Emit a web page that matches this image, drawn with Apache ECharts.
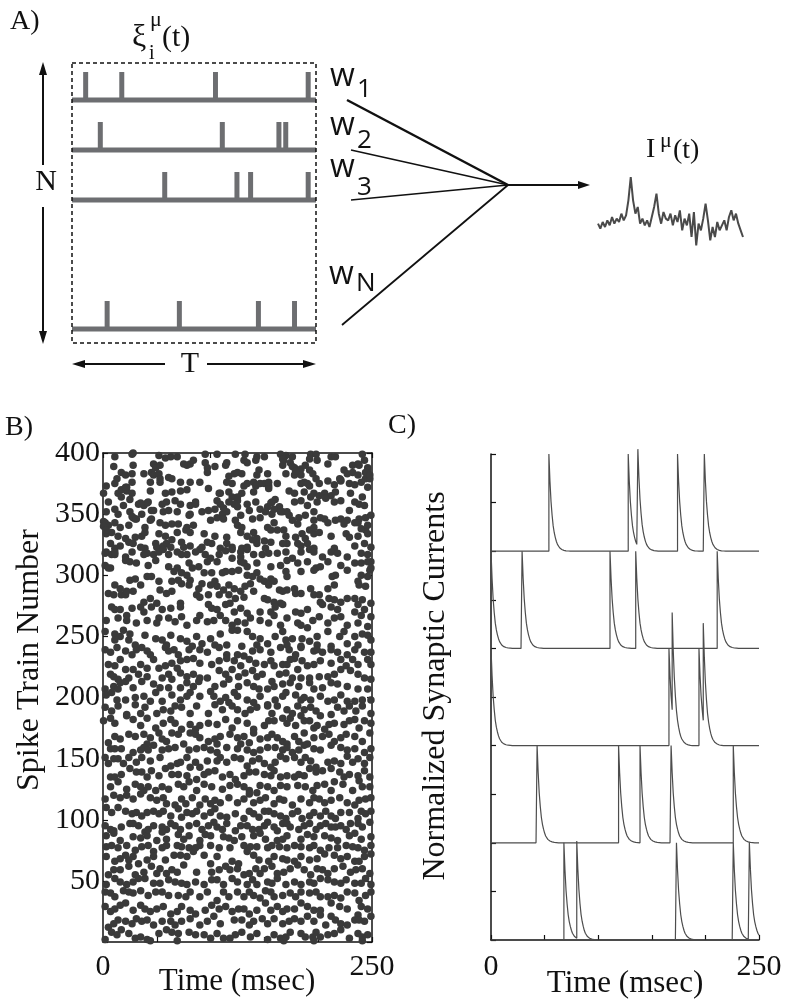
<!DOCTYPE html>
<html><head><meta charset="utf-8">
<script src="https://cdn.jsdelivr.net/npm/echarts@6/dist/echarts.min.js"></script>
<style>html,body{margin:0;padding:0;background:#fff}#c{width:794px;height:1003px}</style>
</head><body><div id="c"></div>
<script>
// ---------- Panel A: schematic spike trains (time 0..250) ----------
const trainRow1 = [14, 51, 147, 242];
const trainRow2 = [29, 154, 212, 219];
const trainRow3 = [95, 169, 183, 242];
const trainRowN = [36, 110, 191, 228];
const trainLevels = [1, 2, 3, 5.58];
// summed input current I^mu(t), arbitrary units, uniform samples
const inputCurrent = [7.0,5.5,7.5,6.0,8.0,6.5,9.0,7.0,8.5,7.5,10.0,8.0,9.5,14.0,21.0,14.0,10.0,12.0,7.0,8.5,6.5,8.0,6.0,9.0,12.0,16.0,10.0,7.0,10.5,8.5,8.0,10.0,6.5,9.5,7.5,11.0,5.0,8.5,6.5,10.0,3.0,10.5,0.5,7.0,5.0,8.5,13.0,8.0,2.0,6.0,3.0,7.5,5.0,6.5,8.0,5.0,9.0,11.0,8.0,10.0,7.0,5.0,3.0];

// ---------- Panel B: raster [time ms, spike train number] ----------
const rasterBand1 = [[11,397],[27,399],[28,400],[52,398],[58,396],[63,397],[69,397],[95,399],[106,399],[123,399],[132,399],[143,397],[150,397],[165,399],[170,398],[176,397],[193,399],[198,399],[212,397],[216,397],[241,399],
[10,389],[28,390],[47,391],[49,388],[53,390],[78,390],[81,391],[84,394],[95,392],[97,388],[104,389],[114,390],[115,392],[131,394],[134,392],[142,394],[167,390],[168,394],[174,392],[178,388],[184,387],[188,390],[192,395],[199,394],[209,391],[224,386],[232,390],[237,391],[243,394],[246,388],
[17,384],[21,382],[27,383],[38,383],[45,384],[47,382],[52,383],[53,379],[61,380],[64,379],[97,384],[117,381],[122,383],[125,384],[129,383],[143,382],[145,386],[153,383],[170,383],[178,382],[184,382],[192,386],[195,383],[221,378],[227,383],[232,384],[237,382],[244,379],[248,379],[246,386],
[3,373],[11,375],[13,379],[22,372],[27,376],[44,376],[53,376],[72,376],[81,376],[90,376],[115,376],[120,375],[131,373],[140,376],[142,373],[150,375],[154,373],[162,375],[184,375],[187,376],[192,373],[201,375],[209,377],[221,377],[229,375],[240,376],[246,372],
[0.5,367],[14,367],[17,364],[22,369],[27,367],[44,369],[58,367],[64,368],[72,369],[78,370],[98,371],[108,367],[117,368],[120,364],[125,361],[129,367],[140,368],[154,371],[173,369],[178,367],[187,368],[196,367],[206,367],[212,365],[216,368],[230,367],[241,364],
[5,360],[19,357],[25,362],[33,358],[38,357],[42,360],[47,353],[55,358],[59,360],[67,361],[72,358],[81,357],[86,358],[106,361],[109,358],[122,358],[125,356],[134,358],[142,360],[146,354],[153,356],[157,360],[160,362],[164,356],[178,360],[184,361],[190,357],[193,364],[199,360],[215,360],[221,361],[234,360],[238,358],[243,357],[229,353],
[3,352],[11,354],[14,350],[25,352],[28,347],[36,350],[45,353],[56,352],[61,353],[69,352],[81,350],[92,352],[98,353],[104,354],[111,350],[115,352],[128,349],[136,353],[146,347],[151,352],[157,350],[167,352],[171,352],[182,347],[188,349],[196,352],[202,347],[221,346],[227,345],[238,346],[244,347],[249,349],
[2,343],[5,341],[11,343],[16,339],[24,341],[30,346],[39,339],[45,346],[53,343],[58,341],[64,342],[70,342],[78,339],[84,341],[100,345],[106,347],[112,346],[123,345],[125,341],[129,339],[139,346],[153,339],[159,343],[162,337],[168,337],[176,345],[181,342],[196,345],[206,346],[209,343],[224,342],[237,343],[244,337],
[3,334],[8,335],[14,332],[21,330],[30,331],[36,332],[39,335],[52,334],[58,332],[69,335],[77,337],[81,335],[94,334],[104,332],[115,331],[128,335],[134,332],[140,335],[143,330],[150,328],[156,337],[170,332],[179,331],[185,334],[188,330],[196,334],[201,335],[212,332],[226,334],[229,331],[237,332],[246,334],
[7,326],[11,322],[24,327],[39,322],[49,326],[59,326],[63,323],[73,327],[81,324],[92,323],[101,326],[109,322],[120,323],[129,322],[143,326],[151,322],[156,327],[171,326],[184,324],[190,326],[196,322],[215,322],[234,324],[243,326],[249,323],
[0.5,344],[0.5,340],[3,337],[17,370],[21,372],[27,348],[31,346],[41,359],[35,359],[44,345],[50,323],[56,324],[64,329],[75,391],[80,349],[86,360],[109,367],[112,355],[117,360],[125,364],[134,375],[146,375],[154,376],[156,359],[159,354],[165,352],[173,349],[167,395],[176,389],[179,385],[190,375],[198,379],[201,365],[207,363],[215,374],[220,379],[234,374],[238,390],[244,384],[248,382],[234,343],[240,338],[246,341],[216,345],[192,337],[196,339],[181,326],[167,326],[139,329],[134,323],[115,326],[97,327],[75,323],[35,323],[28,326],[16,324]];
const rasterBand2 = [[3,319],[8,317],[11,317],[21,315],[27,319],[41,318],[47,317],[52,319],[61,317],[73,317],[78,317],[90,321],[95,317],[108,317],[114,320],[120,321],[128,319],[134,321],[148,317],[162,318],[170,319],[184,319],[192,321],[204,315],[212,319],[218,318],[246,317],[249,311],
[2,308],[7,306],[21,312],[25,311],[31,310],[42,308],[49,312],[61,307],[69,306],[80,310],[89,307],[97,311],[106,311],[120,314],[128,311],[131,310],[134,307],[143,310],[156,307],[165,308],[171,312],[181,310],[190,311],[198,306],[209,311],[221,308],[234,310],[240,310],[246,311],[248,304],
[5,306],[25,296],[30,297],[41,299],[45,299],[52,295],[66,303],[73,302],[78,300],[81,296],[101,302],[111,302],[114,303],[120,303],[126,304],[134,300],[143,302],[146,297],[156,297],[170,303],[171,299],[184,303],[196,304],[202,307],[213,299],[216,300],[227,304],[240,300],[246,299],[249,306],
[64,295],[73,293],[80,292],[89,289],[92,293],[104,295],[106,291],[117,292],[122,289],[132,291],[137,293],[150,295],[154,292],[164,288],[171,288],[178,289],[193,289],[209,289],[215,292],[237,295],[238,292],[244,291],
[5,285],[8,274],[17,284],[21,284],[22,287],[38,278],[44,281],[50,277],[59,285],[64,287],[72,277],[87,284],[90,282],[98,284],[108,284],[117,284],[123,281],[131,282],[140,287],[150,281],[153,280],[159,278],[165,277],[167,287],[179,285],[196,284],[201,284],[210,281],[215,280],[221,278],[234,281],[241,280],[249,277],
[11,272],[27,273],[35,274],[45,274],[55,272],[63,273],[72,274],[98,276],[101,273],[106,272],[114,276],[118,277],[122,270],[128,273],[134,269],[146,270],[156,270],[160,274],[167,276],[179,270],[184,269],[190,272],[204,276],[218,272],[234,270],[243,272],
[3,263],[14,265],[22,263],[31,261],[41,263],[52,265],[61,265],[67,262],[73,266],[87,263],[97,262],[109,267],[114,263],[125,262],[132,261],[146,263],[154,261],[165,259],[181,261],[184,259],[195,263],[201,266],[215,265],[221,266],[227,259],[237,261],[246,258],[249,266],
[2,254],[11,252],[16,250],[19,255],[24,247],[30,243],[39,251],[49,248],[55,247],[63,251],[72,248],[87,250],[92,244],[100,248],[109,252],[120,255],[125,255],[134,254],[139,250],[146,248],[153,244],[160,250],[167,254],[170,247],[176,248],[185,248],[192,246],[199,250],[209,254],[220,250],[227,244],[234,250],[241,252],[246,251],[249,247],[115,243],[129,242],[104,243],[83,242],[184,242],[212,242],
[2,318],[11,319],[38,317],[56,321],[69,319],[86,319],[100,314],[128,315],[140,317],[154,318],[176,314],[196,319],[227,315],[240,318],[11,292],[16,289],[10,284],[28,287],[35,292],[53,288],[70,296],[83,306],[94,302],[100,292],[112,288],[128,287],[139,299],[159,295],[184,285],[202,278],[212,274],[227,281],[237,276],[240,267],[16,272],[22,267],[38,270],[50,261],[78,259],[90,267],[103,263],[120,259],[137,265],[159,267],[171,265],[190,257],[209,261],[224,254],[11,247],[25,252],[59,243],[78,246],[143,243],[171,243],[199,243],[237,243]];
const rasterBand3 = [[7,237],[21,238],[31,239],[36,241],[41,238],[58,241],[61,238],[70,235],[80,239],[90,239],[108,241],[115,235],[125,235],[131,234],[146,239],[165,241],[173,239],[184,241],[196,238],[204,237],[212,239],[218,237],[227,235],[243,237],
[5,227],[11,226],[21,223],[28,223],[47,231],[52,224],[58,226],[64,228],[72,230],[78,231],[84,232],[108,230],[115,232],[122,230],[136,231],[142,228],[156,230],[159,226],[167,227],[174,231],[178,232],[190,226],[196,227],[212,228],[221,231],[226,226],[237,227],[246,231],[249,227],
[7,219],[14,215],[33,219],[55,216],[61,219],[64,215],[72,220],[84,219],[90,216],[108,222],[114,219],[120,223],[132,220],[139,222],[143,217],[148,219],[157,213],[170,220],[181,223],[184,216],[192,216],[201,217],[215,219],[221,223],[230,222],[243,216],
[2,207],[10,209],[16,212],[21,213],[28,208],[36,213],[47,211],[61,208],[72,208],[78,212],[89,213],[100,205],[104,209],[112,211],[117,215],[126,209],[134,212],[145,207],[159,209],[167,211],[174,212],[182,209],[192,212],[204,208],[212,212],[218,211],[227,209],[246,207],
[3,202],[8,204],[21,198],[30,200],[38,201],[49,204],[55,197],[64,202],[72,198],[81,204],[90,201],[103,201],[114,200],[122,204],[125,201],[134,198],[146,201],[153,194],[160,198],[167,201],[170,204],[179,202],[184,198],[193,198],[202,201],[215,198],[227,197],[234,197],[241,198],[249,198],
[2,192],[8,189],[22,186],[30,194],[39,192],[50,187],[56,190],[63,189],[73,192],[87,193],[98,187],[104,194],[117,196],[120,193],[125,190],[132,187],[143,192],[153,193],[162,193],[171,190],[181,193],[187,190],[198,189],[202,185],[212,186],[218,192],[224,189],[229,193],[241,193],[249,187],
[0.5,181],[7,183],[22,185],[28,182],[41,183],[49,175],[56,179],[63,182],[73,174],[81,178],[90,177],[106,178],[114,182],[125,181],[134,179],[140,174],[150,177],[159,181],[167,183],[174,183],[179,177],[184,185],[192,181],[196,175],[199,177],[206,174],[215,179],[224,178],[234,182],[243,181],[249,179],
[5,163],[16,166],[24,170],[30,168],[38,170],[44,167],[52,171],[55,166],[64,171],[70,170],[81,171],[90,167],[98,164],[109,168],[118,170],[131,168],[140,171],[146,166],[153,167],[157,170],[167,164],[178,168],[187,171],[196,167],[204,168],[215,164],[226,170],[234,168],[241,164],[248,171],[41,162],[75,162],[106,162],[128,162],[171,162],[190,162],
[2,239],[13,241],[27,235],[44,235],[66,239],[97,237],[139,238],[156,237],[179,235],[199,239],[234,239],[249,237],[16,231],[35,227],[41,224],[69,224],[90,228],[101,227],[128,226],[150,227],[171,227],[185,230],[202,230],[232,231],[10,217],[24,216],[41,217],[78,217],[97,216],[126,217],[164,219],[176,216],[209,217],[237,219],[249,215],[14,207],[53,208],[84,209],[140,209],[153,207],[196,207],[237,207],[13,198],[44,197],[78,201],[109,197],[140,196],[187,200],[209,197],[221,202],[14,193],[35,187],[67,193],[81,187],[111,190],[137,190],[157,187],[176,187],[193,192],[235,189],[11,179],[35,177],[67,179],[86,174],[98,179],[120,175],[154,181],[171,179],[187,181],[210,178],[229,181],[238,175],[11,168],[59,164],[86,170],[104,166],[125,167],[136,163],[162,167],[182,164],[210,170],[221,167]];
const rasterBand4 = [[2,151],[7,158],[17,158],[28,155],[35,157],[38,159],[47,161],[55,157],[61,158],[80,157],[87,158],[100,157],[106,155],[115,159],[134,157],[140,155],[153,159],[167,157],[171,159],[176,155],[187,161],[196,158],[212,161],[221,159],[234,158],[243,155],
[5,146],[14,150],[24,151],[31,147],[36,151],[44,148],[63,144],[69,146],[78,151],[81,143],[90,143],[97,148],[106,148],[109,151],[122,151],[128,150],[134,144],[145,150],[156,143],[165,152],[170,150],[178,151],[184,147],[193,148],[198,143],[209,147],[215,148],[227,152],[237,150],[243,146],[248,151],
[7,135],[17,137],[25,142],[31,139],[41,135],[45,140],[52,136],[58,142],[70,137],[87,133],[98,139],[104,140],[118,137],[123,133],[131,136],[142,139],[156,136],[159,140],[171,136],[178,135],[182,137],[192,142],[198,139],[204,140],[212,142],[220,139],[229,137],[237,136],[243,140],[248,135],
[14,131],[22,125],[30,129],[38,124],[42,127],[49,124],[61,125],[70,129],[80,131],[94,129],[101,127],[118,128],[125,129],[136,124],[143,122],[153,127],[159,124],[171,127],[181,128],[188,127],[199,128],[206,129],[215,131],[223,129],[232,124],[238,132],[248,127],
[2,117],[10,120],[22,120],[35,121],[44,118],[50,116],[59,113],[67,112],[73,117],[83,118],[90,112],[100,113],[109,114],[117,118],[131,117],[136,121],[140,114],[151,118],[159,113],[168,116],[176,112],[184,117],[196,118],[206,114],[220,118],[227,114],[234,112],[244,117],[249,118],
[3,110],[14,110],[27,105],[31,106],[41,106],[47,107],[52,105],[63,103],[70,109],[78,106],[87,107],[94,103],[104,109],[115,102],[123,105],[131,101],[140,105],[150,107],[159,105],[165,103],[170,101],[181,107],[192,103],[202,103],[212,103],[221,106],[229,106],[237,101],[244,105],[249,107],
[2,95],[10,91],[25,97],[33,95],[39,90],[47,95],[55,94],[63,97],[72,92],[80,95],[87,97],[98,95],[106,94],[115,97],[123,91],[134,95],[145,92],[153,98],[159,94],[167,97],[174,94],[182,92],[192,97],[202,95],[212,94],[221,95],[230,97],[241,94],[248,98],
[3,87],[16,83],[28,86],[41,87],[50,83],[59,84],[70,88],[80,87],[90,83],[100,87],[112,86],[122,83],[129,86],[140,87],[151,84],[162,83],[171,87],[184,84],[196,86],[206,87],[218,83],[229,87],[240,84],[249,86],
[11,158],[42,157],[67,159],[94,159],[125,158],[146,157],[160,159],[182,157],[202,157],[227,157],[249,158],[10,150],[19,146],[53,151],[72,147],[86,147],[115,147],[139,148],[150,146],[160,147],[188,151],[221,146],[232,147],[11,135],[36,139],[64,137],[78,136],[94,137],[111,135],[136,139],[150,137],[165,135],[187,136],[224,135],[7,127],[35,127],[55,127],[75,127],[87,124],[111,125],[131,127],[146,128],[165,128],[195,124],[212,124],[241,127],[16,118],[28,117],[56,118],[77,113],[95,117],[104,116],[125,114],[146,116],[164,117],[192,114],[201,117],[212,116],[238,116],[8,106],[21,107],[36,103],[56,107],[73,102],[83,105],[100,106],[109,103],[136,107],[145,102],[154,107],[176,105],[185,101],[196,106],[207,107],[216,101],[240,107],[7,92],[17,94],[28,97],[42,92],[59,92],[67,95],[92,92],[103,98],[111,92],[128,95],[139,92],[150,95],[162,91],[171,97],[187,95],[198,92],[207,97],[216,94],[226,92],[237,97],[10,89],[35,85],[55,90],[75,84],[95,88],[117,85],[146,89],[167,84],[190,88],[212,85],[234,89]];
const rasterBand5 = [[8,79],[22,79],[30,75],[36,78],[47,74],[59,79],[69,79],[80,77],[90,79],[108,77],[131,79],[143,78],[153,77],[164,78],[171,77],[178,79],[192,77],[202,75],[218,77],[232,78],[243,75],
[3,70],[11,66],[21,71],[28,70],[33,64],[41,67],[66,71],[72,71],[84,74],[94,71],[100,64],[126,64],[134,74],[140,71],[145,67],[154,66],[167,68],[178,66],[184,70],[192,67],[199,68],[206,72],[215,71],[227,70],[234,66],[243,70],[249,72],
[5,55],[16,59],[30,55],[38,57],[45,62],[53,60],[59,56],[64,59],[75,63],[101,57],[118,59],[125,60],[131,55],[136,56],[142,60],[150,60],[157,62],[162,56],[174,60],[181,63],[193,55],[204,59],[215,60],[223,62],[230,57],[241,60],[248,56],
[3,47],[11,52],[22,47],[28,49],[33,52],[47,48],[61,51],[73,48],[78,47],[101,51],[112,47],[120,52],[125,49],[134,47],[143,47],[153,49],[162,52],[170,47],[178,49],[184,47],[192,49],[202,52],[215,49],[226,51],[234,48],[244,52],[249,47],
[2,41],[11,37],[19,42],[28,40],[35,42],[42,38],[55,41],[70,38],[81,41],[97,41],[106,34],[117,37],[125,41],[131,37],[140,38],[151,42],[159,37],[167,38],[174,40],[184,41],[192,40],[202,37],[215,38],[227,41],[238,34],[249,41],
[2,29],[11,27],[21,32],[35,30],[44,25],[56,29],[63,23],[73,29],[81,26],[86,23],[101,30],[108,27],[120,25],[126,27],[136,23],[151,32],[156,26],[162,29],[171,27],[184,32],[196,26],[212,32],[220,29],[237,22],[246,27],
[5,12],[14,18],[21,17],[27,15],[36,17],[41,18],[55,17],[63,17],[67,14],[90,14],[103,21],[129,18],[140,17],[148,19],[159,19],[167,15],[178,19],[184,17],[190,21],[202,22],[212,21],[221,15],[234,18],[243,17],[249,21],
[2,2],[8,8],[17,10],[30,3],[41,2],[59,10],[64,8],[70,7],[80,8],[86,6],[100,3],[112,3],[123,6],[129,8],[137,4],[143,7],[153,2],[165,3],[174,8],[184,7],[195,4],[198,8],[209,6],[221,10],[229,3],[237,7],[246,6],[69,1],[44,1],[168,1],[241,1],[196,1],
[3,78],[14,77],[42,79],[55,77],[73,78],[86,77],[100,79],[118,77],[137,78],[157,79],[184,78],[196,79],[210,77],[226,79],[237,77],[249,79],[16,68],[24,67],[47,70],[58,67],[78,70],[106,70],[120,66],[159,70],[171,67],[221,68],[238,66],[10,59],[24,62],[50,56],[69,57],[87,57],[108,59],[114,62],[146,56],[168,57],[187,59],[199,60],[209,56],[235,59],[16,49],[39,52],[53,48],[67,49],[86,49],[94,47],[106,51],[139,51],[157,48],[196,48],[209,51],[221,48],[240,48],[7,40],[24,41],[49,41],[61,38],[77,37],[90,37],[112,41],[136,41],[146,36],[156,41],[179,37],[198,41],[209,37],[221,36],[234,40],[244,38],[7,25],[16,30],[28,26],[39,27],[50,27],[69,25],[95,26],[114,29],[131,27],[143,26],[167,25],[178,27],[190,29],[202,26],[227,27],[240,29],[10,15],[31,19],[47,14],[73,17],[81,19],[97,17],[109,15],[122,18],[136,14],[153,15],[173,17],[196,17],[207,14],[216,18],[227,14],[238,18],[13,6],[24,7],[35,4],[52,7],[94,6],[106,7],[118,3],[159,6],[170,4],[188,4],[202,4],[215,7],[241,4]];
const xTickLabelsB = ['0', '250'];
const yTickLabelsB = ['50','100','150','200','250','300','350','400'];

// ---------- Panel C: spike times (ms) of five trains and the read decay shape ----------
const currentSpikes1 = [54, 128, 137, 174, 199];
const currentSpikes2 = [0, 29, 111, 135, 211];
const currentSpikes3 = [0, 166, 169, 194, 198];
const currentSpikes4 = [43, 119, 139, 168, 226];
const currentSpikes5 = [68, 80, 173, 226, 241];
const traceOffsets = [4, 3, 2, 1, 0];
// normalized synaptic current shape at 1 ms steps after a spike
const decayKernel = [1, 0.72, 0.51, 0.37, 0.26, 0.19, 0.14, 0.10, 0.07, 0.05, 0.035, 0.025, 0.018, 0.013, 0.009, 0.006, 0.004, 0.003, 0.002, 0];
const xTickLabelsC = ['0', '250'];

function buildTrace(spikes, base) {
  const pts = [];
  for (let t = 0; t <= 250; t++) {
    let before = 0, n = 0;
    for (const s of spikes) {
      if (s < t) { const k = t - s; if (k < decayKernel.length) before += decayKernel[k]; }
      else if (s === t) n++;
    }
    if (n > 0) { pts.push([t, base + before]); pts.push([t, base + before + n * decayKernel[0]]); }
    else pts.push([t, base + before]);
  }
  return pts;
}

const SERIF = 'Liberation Serif';
const SANS = 'Open Sans';
const GRAY = '#6d6e71';

function txt(text, x, y, size, opts) {
  opts = opts || {};
  return {
    type: 'text', x: x, y: y, rotation: opts.rot || 0, z: 100,
    style: {
      text: text, fill: opts.color || '#111',
      fontSize: size, fontFamily: opts.family || SERIF,
      align: opts.align || 'left', verticalAlign: opts.va || 'middle',
      textAlign: opts.align || 'left', textVerticalAlign: opts.va || 'middle'
    }
  };
}
function line(x1, y1, x2, y2, w) {
  return { type: 'line', z: 100, shape: { x1: x1, y1: y1, x2: x2, y2: y2 }, style: { stroke: '#111', lineWidth: w } };
}
function poly(pts) {
  return { type: 'polygon', z: 100, shape: { points: pts }, style: { fill: '#111' } };
}

const trainRows = [trainRow1, trainRow2, trainRow3, trainRowN];
const series = [];
trainRows.forEach((row, i) => {
  series.push({ type: 'line', xAxisIndex: 0, yAxisIndex: 0, data: [[0, trainLevels[i]], [250, trainLevels[i]]],
    symbol: 'none', lineStyle: { color: GRAY, width: 5 }, silent: true });
  series.push({ type: 'scatter', xAxisIndex: 0, yAxisIndex: 0, data: row.map(t => [t, trainLevels[i]]),
    symbol: 'rect', symbolSize: [5, 28], symbolOffset: [0, '-50%'], itemStyle: { color: GRAY, opacity: 1 } });
});
series.push({ type: 'line', xAxisIndex: 1, yAxisIndex: 1, data: inputCurrent.map((v, i) => [i, v]),
  symbol: 'none', lineStyle: { color: '#4a4a4a', width: 2 } });
[rasterBand1, rasterBand2, rasterBand3, rasterBand4, rasterBand5].forEach(b => {
  series.push({ type: 'scatter', xAxisIndex: 2, yAxisIndex: 2, data: b, symbol: 'circle', symbolSize: 7.5,
    itemStyle: { color: '#3a3a3a', opacity: 1 }, clip: true });
});
[currentSpikes1, currentSpikes2, currentSpikes3, currentSpikes4, currentSpikes5].forEach((s, i) => {
  series.push({ type: 'line', xAxisIndex: 4, yAxisIndex: 4, data: buildTrace(s, traceOffsets[i]),
    symbol: 'none', clip: false, lineStyle: { color: '#4d4d4d', width: 1.2 } });
});

const axisFrame = { show: true, onZero: false, lineStyle: { color: '#111', width: 1.5 } };
const tickIn = { show: true, inside: true, length: 5, lineStyle: { color: '#111', width: 1.2 } };
const lab = { fontFamily: SERIF, fontSize: 30, color: '#111' };

const option = {
  animation: false,
  backgroundColor: '#fff',
  grid: [
    { left: 72, top: 63, width: 244, height: 280 },
    { left: 598, top: 177, width: 145, height: 70 },
    { left: 103, top: 453, width: 269, height: 489 },
    { left: 491, top: 454, width: 268, height: 486 }
  ],
  xAxis: [
    { gridIndex: 0, type: 'value', min: 0, max: 250, show: false },
    { gridIndex: 1, type: 'value', min: 0, max: inputCurrent.length - 1, show: false },
    { gridIndex: 2, type: 'value', position: 'bottom', min: 0, max: 250, interval: 50, axisLine: axisFrame, axisTick: tickIn,
      splitLine: { show: false },
      axisLabel: Object.assign({ margin: 10, formatter: v => xTickLabelsB.indexOf(String(v)) >= 0 ? String(v) : '' }, lab) },
    { gridIndex: 2, type: 'value', position: 'top', min: 0, max: 250, interval: 50, axisLine: axisFrame, axisTick: tickIn,
      splitLine: { show: false }, axisLabel: { show: false } },
    { gridIndex: 3, type: 'value', position: 'bottom', min: 0, max: 250, interval: 50, axisLine: axisFrame, axisTick: tickIn,
      splitLine: { show: false },
      axisLabel: Object.assign({ margin: 12, formatter: v => xTickLabelsC.indexOf(String(v)) >= 0 ? String(v) : '' }, lab) }
  ],
  yAxis: [
    { gridIndex: 0, type: 'value', min: 0.26, max: 5.86, inverse: true, show: false },
    { gridIndex: 1, type: 'value', min: 0, max: 21, show: false },
    { gridIndex: 2, type: 'value', position: 'left', min: 0, max: 400, interval: 50, axisLine: axisFrame, axisTick: tickIn,
      splitLine: { show: false },
      axisLabel: Object.assign({ margin: 3, formatter: v => yTickLabelsB.indexOf(String(v)) >= 0 ? String(v) : '' }, lab) },
    { gridIndex: 2, type: 'value', position: 'right', min: 0, max: 400, interval: 50, axisLine: axisFrame, axisTick: tickIn,
      splitLine: { show: false }, axisLabel: { show: false } },
    { gridIndex: 3, type: 'value', position: 'left', min: 0, max: 5, interval: 0.5, axisLine: axisFrame, axisTick: tickIn,
      splitLine: { show: false }, axisLabel: { show: false } }
  ],
  series: series,
  graphic: { elements: [
    txt('A)', 10, 22, 28),
    txt('ξ', 132, 38, 32),
    txt('μ', 150, 20, 22),
    txt('i', 149, 54, 20),
    txt('(t)', 162, 38, 30),
    { type: 'rect', z: 100, shape: { x: 72, y: 63, width: 244, height: 280 },
      style: { fill: 'none', stroke: '#111', lineWidth: 1.5, lineDash: [4, 3] } },
    line(43, 72, 43, 165, 2), poly([[43, 62], [39, 75], [47, 75]]),
    txt('N', 46, 182, 30, { align: 'center' }),
    line(43, 207, 43, 334, 2), poly([[43, 344], [39, 331], [47, 331]]),
    line(82, 364, 165, 364, 2), poly([[72, 364], [85, 360], [85, 368]]),
    txt('T', 190, 364, 30, { align: 'center' }),
    line(207, 364, 306, 364, 2), poly([[316, 364], [303, 360], [303, 368]]),
    line(347, 100, 508, 185, 2.5),
    line(351, 150, 508, 185, 1.5),
    line(351, 200, 508, 185, 1.5),
    line(342, 325, 508, 185, 1.8),
    line(508, 185, 580, 185, 2), poly([[590, 185], [578, 181], [578, 189]]),
    txt('w', 330, 77, 32, { family: SANS }), txt('1', 357, 90, 26, { family: SANS }),
    txt('w', 330, 126, 32, { family: SANS }), txt('2', 357, 141, 26, { family: SANS }),
    txt('w', 330, 168, 32, { family: SANS }), txt('3', 357, 188, 26, { family: SANS }),
    txt('w', 329, 275, 32, { family: SANS }), txt('N', 356, 284, 26, { family: SANS }),
    txt('I', 646, 150, 28), txt('μ', 660, 141, 22), txt('(t)', 673, 151, 28),
    txt('B)', 5, 428, 28),
    txt('C)', 388, 426, 28),
    txt('Spike Train Number', 30, 660, 32, { align: 'center', rot: Math.PI / 2 }),
    txt('Time (msec)', 237, 982, 31, { align: 'center' }),
    txt('Normalized Synaptic Currents', 436, 686, 32, { align: 'center', rot: Math.PI / 2 }),
    txt('Time (msec)', 625, 984, 31, { align: 'center' })
  ] }
};
const chart = echarts.init(document.getElementById('c'), null, { renderer: 'canvas' });
chart.setOption(option);
</script></body></html>
